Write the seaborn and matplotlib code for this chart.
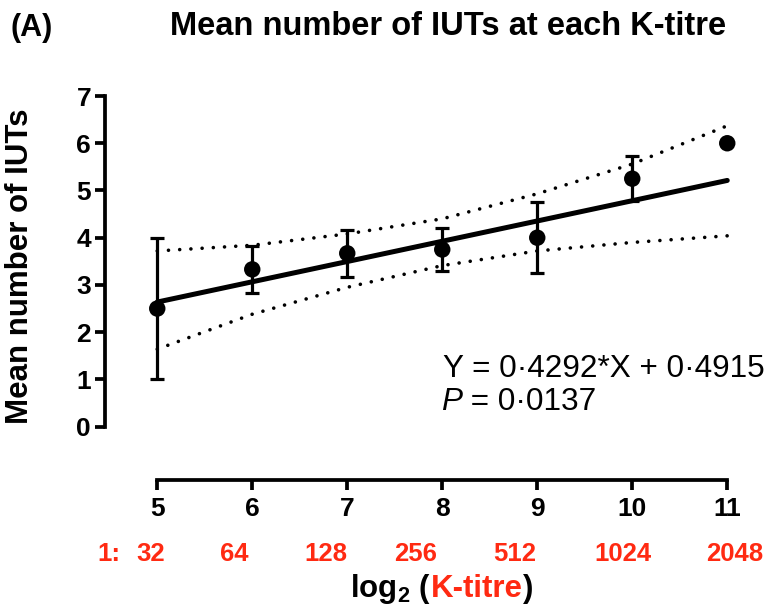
import numpy as np
import pandas as pd
import seaborn as sns
import matplotlib.pyplot as plt
from matplotlib.transforms import blended_transform_factory

# data
titre_log2 = [5, 6, 7, 8, 9, 10, 11]
titre_ratio = ['32', '64', '128', '256', '512', '1024', '2048']
mean_iuts = [2.5, 3.33, 3.67, 3.75, 4.0, 5.25, 6.0]
err_iuts = [1.5, 0.5, 0.5, 0.45, 0.75, 0.48, 0.0]
ci_upper = [3.72, 3.84, 4.08, 4.40, 4.93, 5.56, 6.37]
ci_lower = [1.64, 2.38, 2.95, 3.41, 3.72, 3.90, 4.04]
slope, intercept = 0.4292, 0.4915
p_value = '0·0137'

# where the red dilution labels sit (data x units)
ratio_label_x = [4.93, 5.81, 6.77, 7.72, 8.76, 9.90, 11.08]

RED = '#ff2a12'

# setup
sns.set_style('ticks')
plt.rcParams['font.family'] = ['Liberation Sans', 'DejaVu Sans']
plt.rcParams['text.color'] = 'black'
plt.rcParams['axes.labelcolor'] = 'black'
plt.rcParams['xtick.color'] = 'black'
plt.rcParams['ytick.color'] = 'black'
plt.rcParams['mathtext.fontset'] = 'custom'
plt.rcParams['mathtext.rm'] = 'Liberation Sans:bold'
plt.rcParams['mathtext.it'] = 'Liberation Sans:bold:italic'
plt.rcParams['mathtext.bf'] = 'Liberation Sans:bold'

W, H = 774, 611
fig = plt.figure(figsize=(W / 100, H / 100), dpi=100)
ax = fig.add_axes([105 / W, 1 - 480 / H, (751 - 105) / W, (480 - 91.3) / H])

data = pd.DataFrame({'x': titre_log2, 'mean': mean_iuts, 'err': err_iuts,
                     'upper': ci_upper, 'lower': ci_lower})
fit = pd.DataFrame({'x': [titre_log2[0], titre_log2[-1]]})
fit['y'] = slope * fit['x'] + intercept

# plot
ax.errorbar(data['x'], data['mean'], yerr=data['err'], fmt='none', ecolor='black',
            elinewidth=2.3, capsize=5, capthick=2.3, zorder=2)
sns.lineplot(data=fit, x='x', y='y', color='black', lw=3.6, ax=ax, zorder=3)
for col in ['upper', 'lower']:
    sns.lineplot(data=data, x='x', y=col, color='black', lw=2.6, ax=ax, zorder=3,
                 linestyle=(0, (0.01, 3.1)), dash_capstyle='round')
sns.scatterplot(data=data, x='x', y='mean', color='black', s=140, edgecolor='none',
                ax=ax, zorder=4)

ax.set_xlim(4.45, 11.25)
ax.set_ylim(-1.13, 7.1)
ax.set_xlabel('')
ax.set_ylabel('')
sns.despine(ax=ax)
ax.spines['left'].set_bounds(0, 7)
ax.spines['bottom'].set_bounds(5, 11)
for s in ['left', 'bottom']:
    ax.spines[s].set_linewidth(2.7)
    ax.spines[s].set_color('black')
ax.set_xticks(titre_log2)
ax.set_xticklabels([str(v) for v in titre_log2], fontsize=19, fontweight='bold')
ax.set_yticks(range(8))
ax.set_yticklabels([str(v) for v in range(8)], fontsize=19, fontweight='bold')
ax.tick_params(width=2.7, length=7, direction='out', colors='black')
ax.tick_params(axis='x', pad=5)
ax.tick_params(axis='y', pad=3)

# red dilution row
trans = blended_transform_factory(ax.transData, fig.transFigure)
for xpos, lab in zip(ratio_label_x, titre_ratio):
    ax.text(xpos, 1 - 561 / H, lab, transform=trans, ha='center', va='baseline',
            color=RED, fontsize=18.5, fontweight='bold')
ax.text(4.488, 1 - 561 / H, '1:', transform=trans, ha='center', va='baseline',
        color=RED, fontsize=18.5, fontweight='bold')

# titles
fig.text(448 / W, 1 - 35 / H, 'Mean number of IUTs at each K-titre', ha='center',
         va='baseline', fontsize=23.5, fontweight='bold')
fig.text(10 / W, 1 - 36 / H, '(A)', ha='left', va='baseline', fontsize=22,
         fontweight='bold')
fig.text(20 / W, 1 - 266 / H, 'Mean number of IUTs', rotation=90, ha='center',
         va='center', fontsize=22.5, fontweight='bold')

# regression text
fig.text(443 / W, 1 - 377 / H, 'Y = %s*X + %s' % (str(slope).replace('.', '·'),
         str(intercept).replace('.', '·')), ha='left', va='baseline', fontsize=22.7)
fig.canvas.draw()
r = fig.canvas.get_renderer()
tp = fig.text(441 / W, 1 - 410 / H, 'P', ha='left', va='baseline', fontsize=22.7,
              fontstyle='italic')
bb = tp.get_window_extent(r)
fig.text(bb.x1 / W, 1 - 410 / H, ' = ' + p_value, ha='left', va='baseline', fontsize=22.7)

# x axis label, K-titre in red
yb = 1 - 597 / H
t1 = fig.text(350 / W, yb, r'log$_2$ (', ha='left', va='baseline', fontsize=22.5,
              fontweight='bold')
bb = t1.get_window_extent(r)
t2 = fig.text(bb.x1 / W, yb, 'K-titre', ha='left', va='baseline', fontsize=22.5,
              fontweight='bold', color=RED)
bb = t2.get_window_extent(r)
fig.text(bb.x1 / W, yb, ')', ha='left', va='baseline', fontsize=22.5, fontweight='bold')

fig.savefig('out.png', dpi=100)
